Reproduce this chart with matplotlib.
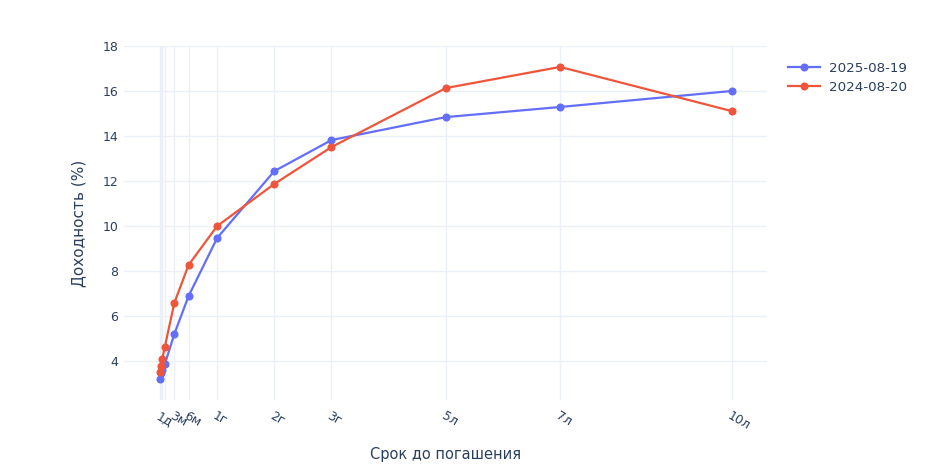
import matplotlib
matplotlib.use("Agg")
import matplotlib.pyplot as plt

# maturities in years and their labels
maturity = [1 / 365, 7 / 365, 14 / 365, 1 / 12, 0.25, 0.5, 1, 2, 3, 5, 7, 10]
tick_labels = ["1д", "", "", "", "3м", "6м", "1г", "2г", "3г", "5л", "7л", "10л"]

# yields, %
y_2025 = [3.22, 3.45, 3.62, 3.85, 5.2, 6.89, 9.47, 12.44, 13.82, 14.84, 15.29, 16.0]
y_2024 = [3.52, 3.78, 4.08, 4.62, 6.58, 8.27, 10.0, 11.87, 13.51, 16.13, 17.07, 15.11]

BLUE = "#636efa"
RED = "#EF553B"
TEXT = "#2a3f5f"
GRID = "#ebf0f8"

plt.rcParams["font.family"] = ["DejaVu Sans"]

fig = plt.figure(figsize=(9.34, 4.68), dpi=100)
ax = fig.add_axes([124 / 934, 1 - 400 / 468, (767 - 124) / 934, (400 - 46) / 468])

ax.plot(maturity, y_2025, "-o", color=BLUE, linewidth=1.6, markersize=4.8,
        label="2025-08-19", zorder=3)
ax.plot(maturity, y_2024, "-o", color=RED, linewidth=1.6, markersize=4.8,
        label="2024-08-20", zorder=3)

ax.set_xlim(-0.63, 10.62)
ax.set_ylim(2.27, 18.0)

ax.set_xticks(maturity)
ax.set_xticklabels(tick_labels, rotation=-30, ha="left", va="top",
                   rotation_mode="anchor")
ax.set_yticks([4, 6, 8, 10, 12, 14, 16, 18])

ax.grid(True, color=GRID, linewidth=1, zorder=0)
ax.set_axisbelow(True)
for s in ax.spines.values():
    s.set_visible(False)
ax.tick_params(axis="both", length=0, colors=TEXT, labelsize=9)
ax.tick_params(axis="x", pad=7)
ax.tick_params(axis="y", pad=4)

ax.set_xlabel("Срок до погашения", color=TEXT, fontsize=10.5, labelpad=10)
ax.set_ylabel("Доходность (%)", color=TEXT, fontsize=11, labelpad=12)

leg = ax.legend(loc="upper left", bbox_to_anchor=(776 / 934, 1 - 50 / 468),
                bbox_transform=fig.transFigure, frameon=False, fontsize=9.7,
                handlelength=2.4, handletextpad=0.6, labelspacing=0.45)
for t in leg.get_texts():
    t.set_color(TEXT)

fig.savefig("out.png", dpi=100)
plt.close(fig)
